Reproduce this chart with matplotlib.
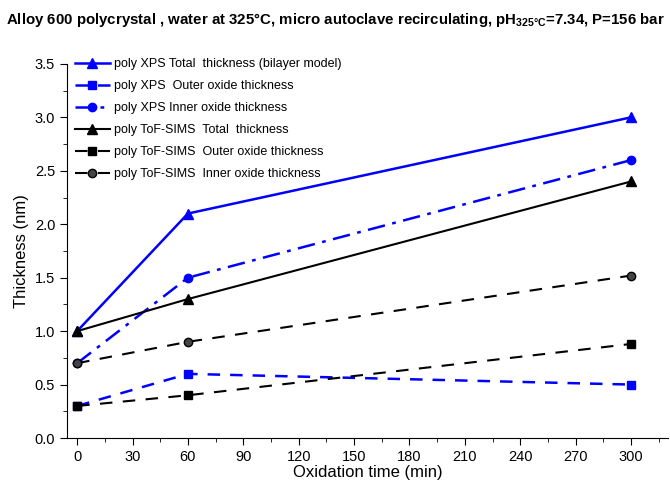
import matplotlib
matplotlib.use("Agg")
import matplotlib.pyplot as plt
from matplotlib.ticker import MultipleLocator

plt.rcParams['font.family'] = ['Liberation Sans', 'DejaVu Sans']
plt.rcParams['mathtext.fontset'] = 'custom'
plt.rcParams['mathtext.rm'] = 'Liberation Sans'
plt.rcParams['mathtext.bf'] = 'Liberation Sans:bold'

time = [0, 60, 300]
xps_total = [1.0, 2.1, 3.0]
xps_outer = [0.3, 0.6, 0.5]
xps_inner = [0.7, 1.5, 2.6]
tof_total = [1.0, 1.3, 2.4]
tof_outer = [0.3, 0.4, 0.88]
tof_inner = [0.7, 0.9, 1.52]

labels = [
    "poly XPS Total  thickness (bilayer model)",
    "poly XPS  Outer oxide thickness",
    "poly XPS Inner oxide thickness",
    "poly ToF-SIMS  Total  thickness",
    "poly ToF-SIMS  Outer oxide thickness",
    "poly ToF-SIMS  Inner oxide thickness",
]

fig = plt.figure(figsize=(6.7, 4.84), dpi=100)
ax = fig.add_axes([0.1, 0.095, 0.897, 0.773])

blue = '#0000ff'
ax.plot(time, xps_total, color=blue, lw=1.8, ls='-', marker='^', ms=7, label=labels[0])
ax.plot(time, xps_outer, color=blue, lw=1.8, ls=(0, (5, 4)), marker='s', ms=6, label=labels[1])
ax.plot(time, xps_inner, color=blue, lw=1.8, ls=(0, (7, 3, 1.5, 3)), marker='o', ms=6,
        markeredgecolor=blue, label=labels[2])
ax.plot(time, tof_total, color='black', lw=1.5, ls='-', marker='^', ms=7, label=labels[3])
ax.plot(time, tof_outer, color='black', lw=1.5, ls=(0, (6, 5)), marker='s', ms=6, label=labels[4])
ax.plot(time, tof_inner, color='black', lw=1.5, ls=(0, (6, 5)), marker='o', ms=6,
        markerfacecolor='#444444', markeredgecolor='black', label=labels[5])

ax.set_xlim(-5.5, 320)
ax.set_ylim(0, 3.5)
ax.xaxis.set_major_locator(MultipleLocator(30))
ax.xaxis.set_minor_locator(MultipleLocator(15))
ax.yaxis.set_major_locator(MultipleLocator(0.5))
ax.yaxis.set_minor_locator(MultipleLocator(0.25))
ax.yaxis.set_major_formatter(matplotlib.ticker.FormatStrFormatter('%.1f'))
ax.spines['top'].set_visible(False)
ax.spines['right'].set_visible(False)
ax.tick_params(which='major', direction='out', length=5, labelsize=10.5)
ax.tick_params(which='minor', direction='out', length=3)

ax.set_xlabel("Oxidation time (min)", fontsize=12, labelpad=1)
ax.set_ylabel("Thickness (nm)", fontsize=12, labelpad=4)

fig.text(0.5, 0.958,
         r"Alloy 600 polycrystal , water at 325°C, micro autoclave recirculating, pH$_{\mathbf{325°C}}$=7.34, P=156 bar",
         ha='center', va='center', fontsize=10.8, fontweight='bold')

ax.legend(loc='upper left', bbox_to_anchor=(0.0, 1.035), frameon=False, fontsize=9,
          handlelength=2.8, handletextpad=0.4, labelspacing=0.8, borderaxespad=0.2)

fig.savefig("out.png", dpi=100)
